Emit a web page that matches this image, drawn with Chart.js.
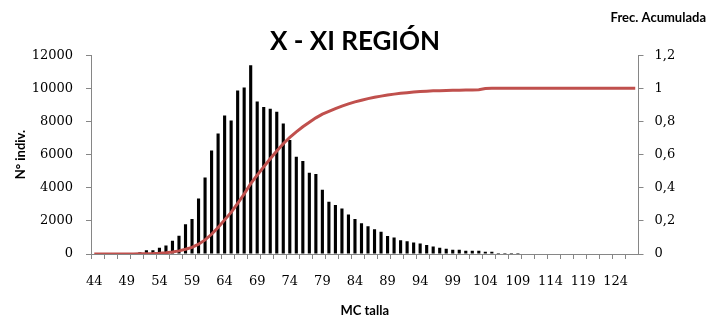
<!DOCTYPE html>
<html lang="es">
<head>
<meta charset="utf-8">
<title>X - XI REGIÓN</title>
<script src="https://cdn.jsdelivr.net/npm/chart.js@4.4.1/dist/chart.umd.min.js"></script>
<style>
  html, body { margin: 0; padding: 0; background: #ffffff; }
  #wrap { width: 710px; height: 320px; position: relative; }
</style>
</head>
<body>
<div id="wrap"><canvas id="tallas"></canvas></div>
<script>
// Marcas de clase (MC talla)
const tallas = [
  44, 45, 46, 47, 48, 49, 50, 51, 52, 53, 54, 55, 56, 57, 58, 59, 60, 61, 62, 63, 64,
  65, 66, 67, 68, 69, 70, 71, 72, 73, 74, 75, 76, 77, 78, 79, 80, 81, 82, 83, 84, 85,
  86, 87, 88, 89, 90, 91, 92, 93, 94, 95, 96, 97, 98, 99, 100, 101, 102, 103, 104, 105,
  106, 107, 108, 109, 110, 111, 112, 113, 114, 115, 116, 117, 118, 119, 120, 121, 122,
  123, 124, 125, 126, 127
];

// N° de individuos por talla
const nIndiv = [
  0, 0, 0, 0, 0, 0, 0, 100, 220, 220, 380, 520, 800, 1100, 1800, 2110, 3350,
  4620, 6250, 7280, 8360, 8060, 9870, 10050, 11400, 9210, 8880, 8770, 8580, 7880,
  6880, 5870, 5610, 4900, 4830, 3880, 3160, 2960, 2750, 2390, 2110, 1850, 1670,
  1490, 1350, 1090, 1000, 830, 770, 700, 640, 540, 460, 380, 320, 260, 260, 200,
  200, 200, 140, 140, 60, 60, 60, 60,
  0, 0, 0, 0, 0, 0, 0, 0, 0, 0, 0, 0, 0, 0, 0, 0, 0, 0
];

// Frecuencia acumulada
const frecAcum = [
  0, 0, 0, 0, 0, 0, 0, 0.001, 0.002, 0.003, 0.005, 0.008, 0.012, 0.019, 0.029,
  0.040, 0.059, 0.085, 0.119, 0.160, 0.206, 0.251, 0.306, 0.362, 0.425, 0.476,
  0.526, 0.575, 0.622, 0.666, 0.704, 0.737, 0.768, 0.795, 0.822, 0.844, 0.861,
  0.878, 0.893, 0.906, 0.918, 0.928, 0.938, 0.946, 0.953, 0.960, 0.965, 0.970,
  0.974, 0.978, 0.981, 0.983, 0.985, 0.986, 0.987, 0.988, 0.989, 0.990, 0.990,
  0.991, 0.999, 1, 1, 1, 1, 1, 1, 1, 1, 1, 1, 1, 1, 1, 1, 1, 1, 1, 1, 1, 1, 1, 1, 1
];

const ejeGris = '#868686';
const fuenteTicks = { family: 'DejaVu Serif', size: 13 };
const fuenteTitulos = { family: 'Lato', size: 13, weight: 'bold' };

// Texto "Frec. Acumulada" arriba a la derecha
const tituloDerecho = {
  id: 'tituloDerecho',
  afterDraw(chart) {
    const ctx = chart.ctx;
    ctx.save();
    ctx.font = 'bold 13px Lato';
    ctx.fillStyle = '#000000';
    ctx.textAlign = 'right';
    ctx.textBaseline = 'middle';
    ctx.fillText('Frec. Acumulada', 706, 18);
    ctx.restore();
  }
};

new Chart(document.getElementById('tallas'), {
  data: {
    labels: tallas,
    datasets: [
      {
        type: 'line',
        label: 'Frec. Acumulada',
        data: frecAcum,
        yAxisID: 'y1',
        borderColor: 'rgb(192, 80, 77)',
        borderWidth: 3,
        pointRadius: 0,
        tension: 0,
        order: 0
      },
      {
        type: 'bar',
        label: 'N° indiv.',
        data: nIndiv,
        yAxisID: 'y',
        backgroundColor: '#000000',
        categoryPercentage: 1,
        barPercentage: 0.48,
        order: 1
      }
    ]
  },
  options: {
    responsive: true,
    maintainAspectRatio: false,
    animation: false,
    layout: { padding: { left: 0, right: 0, top: 0, bottom: 0 } },
    plugins: {
      legend: { display: false },
      tooltip: { enabled: false },
      title: {
        display: true,
        text: 'X - XI REGIÓN',
        color: '#000000',
        font: { family: 'Lato', size: 26, weight: 'bold' },
        padding: { top: 26, bottom: -2 }
      }
    },
    scales: {
      x: {
        offset: true,
        grid: {
          offset: true,
          drawOnChartArea: false,
          tickLength: 5,
          color: (c) => (c.index % 2 === 0 ? ejeGris : 'rgba(0,0,0,0)')
        },
        border: { color: ejeGris },
        ticks: {
          autoSkip: false,
          maxRotation: 0,
          minRotation: 0,
          padding: 15,
          color: '#000000',
          font: fuenteTicks,
          callback: (v, i) => (i % 5 === 0 ? tallas[i] : '')
        },
        title: {
          display: true,
          text: 'MC talla',
          color: '#000000',
          font: fuenteTitulos,
          padding: { top: 0, bottom: 1 }
        },
        afterFit: (s) => { s.height = 66; }
      },
      y: {
        position: 'left',
        min: 0,
        max: 12000,
        grid: { drawOnChartArea: false, tickLength: 5, color: ejeGris },
        border: { color: ejeGris },
        ticks: {
          stepSize: 2000,
          padding: 13,
          color: '#000000',
          font: fuenteTicks,
          callback: (v) => String(v)
        },
        title: {
          display: true,
          text: 'N° indiv.',
          color: '#000000',
          font: fuenteTitulos,
          padding: { top: 13, bottom: 0 }
        },
        afterFit: (s) => { s.width = 91; }
      },
      y1: {
        position: 'right',
        min: 0,
        max: 1.2,
        grid: { drawOnChartArea: false, tickLength: 5, color: ejeGris },
        border: { color: ejeGris },
        ticks: {
          stepSize: 0.2,
          padding: 11,
          color: '#000000',
          font: fuenteTicks,
          callback: (v) => String(Number(v.toFixed(1))).replace('.', ',')
        },
        afterFit: (s) => { s.width = 71.5; }
      }
    }
  },
  plugins: [tituloDerecho]
});
</script>
</body>
</html>
